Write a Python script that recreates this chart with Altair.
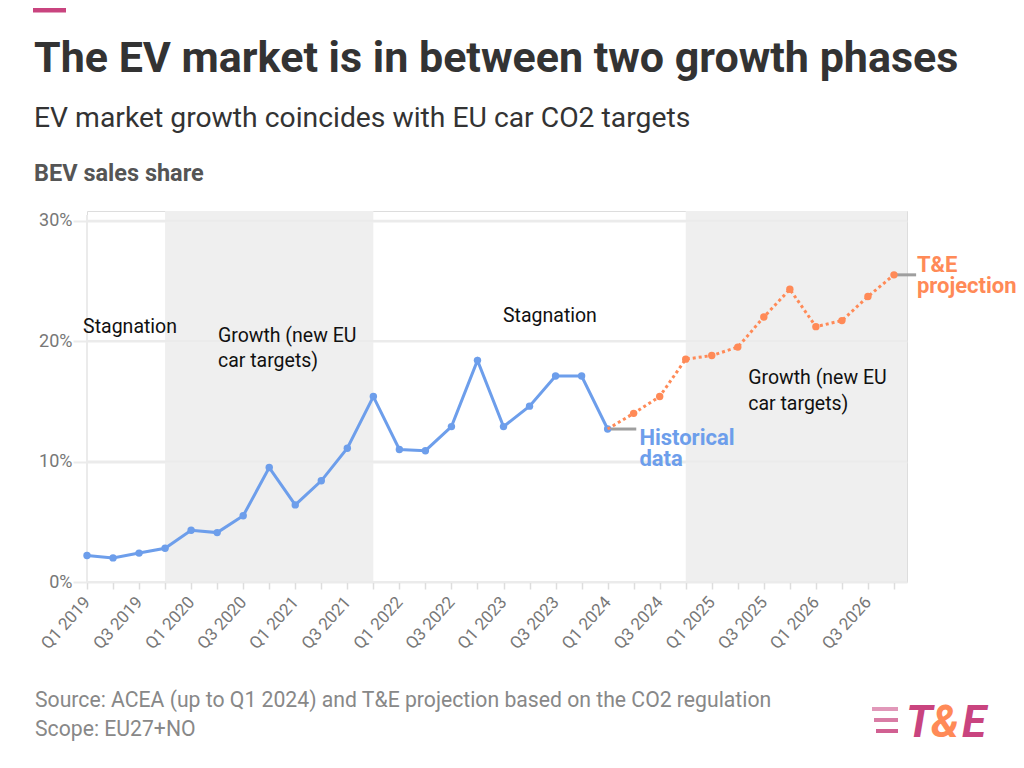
import altair as alt
import pandas as pd

# ---------------- data ----------------
quarter_labels = [
    "Q1 2019", "Q2 2019", "Q3 2019", "Q4 2019",
    "Q1 2020", "Q2 2020", "Q3 2020", "Q4 2020",
    "Q1 2021", "Q2 2021", "Q3 2021", "Q4 2021",
    "Q1 2022", "Q2 2022", "Q3 2022", "Q4 2022",
    "Q1 2023", "Q2 2023", "Q3 2023", "Q4 2023",
    "Q1 2024", "Q2 2024", "Q3 2024", "Q4 2024",
    "Q1 2025", "Q2 2025", "Q3 2025", "Q4 2025",
    "Q1 2026", "Q2 2026", "Q3 2026", "Q4 2026",
]
historical = [2.2, 2.0, 2.4, 2.8, 4.3, 4.1, 5.5, 9.5, 6.4, 8.4, 11.1, 15.4,
              11.0, 10.9, 12.9, 18.4, 12.9, 14.6, 17.1, 17.1, 12.7]
projection = [12.7, 14.0, 15.4, 18.5, 18.8, 19.5, 22.0, 24.3, 21.2, 21.7, 23.7, 25.5]
projection_start = 20

band_start = [3, 23]
band_end = [11, 31.5]

phase_text = ["Stagnation", "Growth (new EU", "car targets)", "Stagnation",
              "Growth (new EU", "car targets)"]
phase_x = [-0.15, 5.03, 5.03, 15.98, 25.4, 25.4]
phase_y = [21.2, 20.45, 18.35, 22.1, 16.9, 14.75]

BLUE = "#6d9eeb"
ORANGE = "#ff8a57"
PINK = "#c9447f"
GRID = "#ebebeb"

hist_df = pd.DataFrame({"i": list(range(len(historical))),
                        "v": [v / 100 for v in historical]})
proj_df = pd.DataFrame({"i": list(range(projection_start, projection_start + len(projection))),
                        "v": [v / 100 for v in projection]})
band_df = pd.DataFrame({"s": band_start, "e": band_end})
phase_df = pd.DataFrame({"t": phase_text, "x": phase_x, "y": [v / 100 for v in phase_y]})

W, H = 820, 371
label_arr = "[" + ",".join("'" + q + "'" for q in quarter_labels) + "]"

xscale = alt.Scale(domain=[0, 31.5], nice=False, zero=False)
yscale = alt.Scale(domain=[0, 0.308], nice=False)
xaxis = alt.Axis(values=list(range(32)), title=None, grid=False, domain=False,
                 labelExpr="datum.value % 2 == 0 ? " + label_arr + "[datum.value] : ''",
                 labelAngle=-48, labelAlign="right", labelBaseline="middle",
                 labelPadding=10, labelFontSize=17, labelColor="#777",
                 tickColor="#dddddd", tickSize=7, tickWidth=1.5,
                 labelFont="Roboto", labelOverlap=False)
yaxis = alt.Axis(values=[0, 0.1, 0.2, 0.3], format=".0%", title=None, domain=False,
                 grid=True, gridColor=GRID, gridWidth=2, tickColor=GRID, tickSize=14,
                 tickWidth=2, labelPadding=1, labelFontSize=18, labelColor="#777",
                 labelFont="Roboto")

# ---------------- layers ----------------
bands = alt.Chart(band_df).mark_rect(color="#efefef").encode(
    x=alt.X("s:Q", scale=xscale, axis=xaxis),
    x2="e:Q",
    y=alt.value(0),
    y2=alt.value(H),
)

gridlines = alt.Chart(pd.DataFrame({"v": [0, 0.1, 0.2, 0.3]})).mark_rule(
    color=GRID, strokeWidth=2).encode(
    y=alt.Y("v:Q", scale=yscale, axis=yaxis),
)

first_vline = alt.Chart(pd.DataFrame({"i": [0]})).mark_rule(
    color=GRID, strokeWidth=2).encode(
    x=alt.X("i:Q", scale=xscale, axis=xaxis),
    y=alt.value(4), y2=alt.value(H),
)

hist_line = alt.Chart(hist_df).mark_line(color=BLUE, strokeWidth=3).encode(
    x=alt.X("i:Q", scale=xscale, axis=xaxis),
    y=alt.Y("v:Q", scale=yscale, axis=yaxis),
)
hist_pts = alt.Chart(hist_df).mark_circle(color=BLUE, size=55, opacity=1).encode(
    x=alt.X("i:Q", scale=xscale, axis=xaxis),
    y=alt.Y("v:Q", scale=yscale, axis=yaxis),
)
proj_line = alt.Chart(proj_df).mark_line(color=ORANGE, strokeWidth=3,
                                         strokeDash=[3, 3]).encode(
    x=alt.X("i:Q", scale=xscale, axis=xaxis),
    y=alt.Y("v:Q", scale=yscale, axis=yaxis),
)
proj_pts = alt.Chart(proj_df.iloc[1:]).mark_circle(color=ORANGE, size=55, opacity=1).encode(
    x=alt.X("i:Q", scale=xscale, axis=xaxis),
    y=alt.Y("v:Q", scale=yscale, axis=yaxis),
)

# connectors to series labels
conn_df = pd.DataFrame({
    "x": [len(historical) - 1, projection_start + len(projection) - 1],
    "x2": [len(historical) - 1 + 1.1, projection_start + len(projection) - 1 + 0.85],
    "y": [historical[-1] / 100, projection[-1] / 100],
})
connectors = alt.Chart(conn_df).mark_rule(color="#9e9e9e", strokeWidth=3).encode(
    x=alt.X("x:Q", scale=xscale, axis=xaxis), x2="x2:Q",
    y=alt.Y("y:Q", scale=yscale, axis=yaxis),
)

series_lbl_df = pd.DataFrame({
    "t": ["Historical", "data", "T&E", "projection"],
    "x": [20 + 1.22, 20 + 1.22, 31 + 0.88, 31 + 0.88],
    "y": [historical[-1] / 100, historical[-1] / 100, projection[-1] / 100, projection[-1] / 100],
    "dy": [16, 37, -3, 18],
    "c": [BLUE, BLUE, ORANGE, ORANGE],
})
series_lbls = alt.layer(*[
    alt.Chart(series_lbl_df.iloc[[k]]).mark_text(
        align="left", baseline="alphabetic", fontSize=22, fontWeight="bold",
        font="Roboto", color=row.c, dy=row.dy).encode(
        x=alt.X("x:Q", scale=xscale, axis=xaxis),
        y=alt.Y("y:Q", scale=yscale, axis=yaxis), text="t:N")
    for k, row in enumerate(series_lbl_df.itertuples())
])

phase_lbls = alt.Chart(phase_df).mark_text(
    align="left", baseline="middle", fontSize=19.5, font="Roboto", color="#111").encode(
    x=alt.X("x:Q", scale=xscale, axis=xaxis),
    y=alt.Y("y:Q", scale=yscale, axis=yaxis), text="t:N")

# ---------------- header / footer text ----------------
OX, OY = 87, 211  # page position of plot origin


def txt(s, px, py, size, color, weight="normal", style="normal", align="left"):
    return alt.Chart(pd.DataFrame({"t": [s]})).mark_text(
        align=align, baseline="alphabetic", fontSize=size, fontWeight=weight,
        fontStyle=style, font="Roboto", color=color).encode(
        text="t:N", x=alt.value(px - OX), y=alt.value(py - OY))


title = txt("The EV market is in between two growth phases", 34, 72, 43, "#333333", "bold")
subtitle = txt("EV market growth coincides with EU car CO2 targets", 34, 127, 28.3, "#333333")
ylabel = txt("BEV sales share", 34, 181, 23.5, "#555555", "bold")
source = txt("Source: ACEA (up to Q1 2024) and T&E projection based on the CO2 regulation",
             35, 707, 21.2, "#888888")
scope = txt("Scope: EU27+NO", 35, 736, 21.2, "#888888")
logo_t = txt("T", 906, 737, 44, PINK, "bold", "italic")
logo_amp = txt("&", 931, 737, 44, ORANGE, "bold", "italic")
logo_e = txt("E", 962, 737, 44, PINK, "bold", "italic")

stripe_df = pd.DataFrame({"k": [0, 1, 2]})
stripes = alt.layer(*[
    alt.Chart(stripe_df.iloc[[k]]).mark_rule(color=PINK, strokeWidth=4,
                                              opacity=0.85 - 0.15 * (2 - k)).encode(
        x=alt.value(872 - OX + 2 * k), x2=alt.value(898 - OX),
        y=alt.value(709 - OY + 11 * k))
    for k in range(3)
])

pink_bar = alt.Chart(pd.DataFrame({"k": [0]})).mark_rule(color=PINK, strokeWidth=5).encode(
    x=alt.value(33 - OX), x2=alt.value(66 - OX), y=alt.value(10 - OY))

chart = alt.layer(
    bands, gridlines, first_vline, connectors, hist_line, hist_pts, proj_line, proj_pts,
    phase_lbls, series_lbls, title, subtitle, ylabel, source, scope,
    stripes, logo_t, logo_amp, logo_e, pink_bar,
).properties(
    width=W, height=H,
    padding={"left": OX - 8, "top": OY - 8, "right": 1008 - (OX - 8) - W,
             "bottom": 752 - (OY - 8) - H},
    autosize=alt.AutoSizeParams(type="none"),
).configure_view(stroke=None).configure(font="Roboto")

chart.save("out.html", embed_options={"renderer": "svg", "actions": False})
